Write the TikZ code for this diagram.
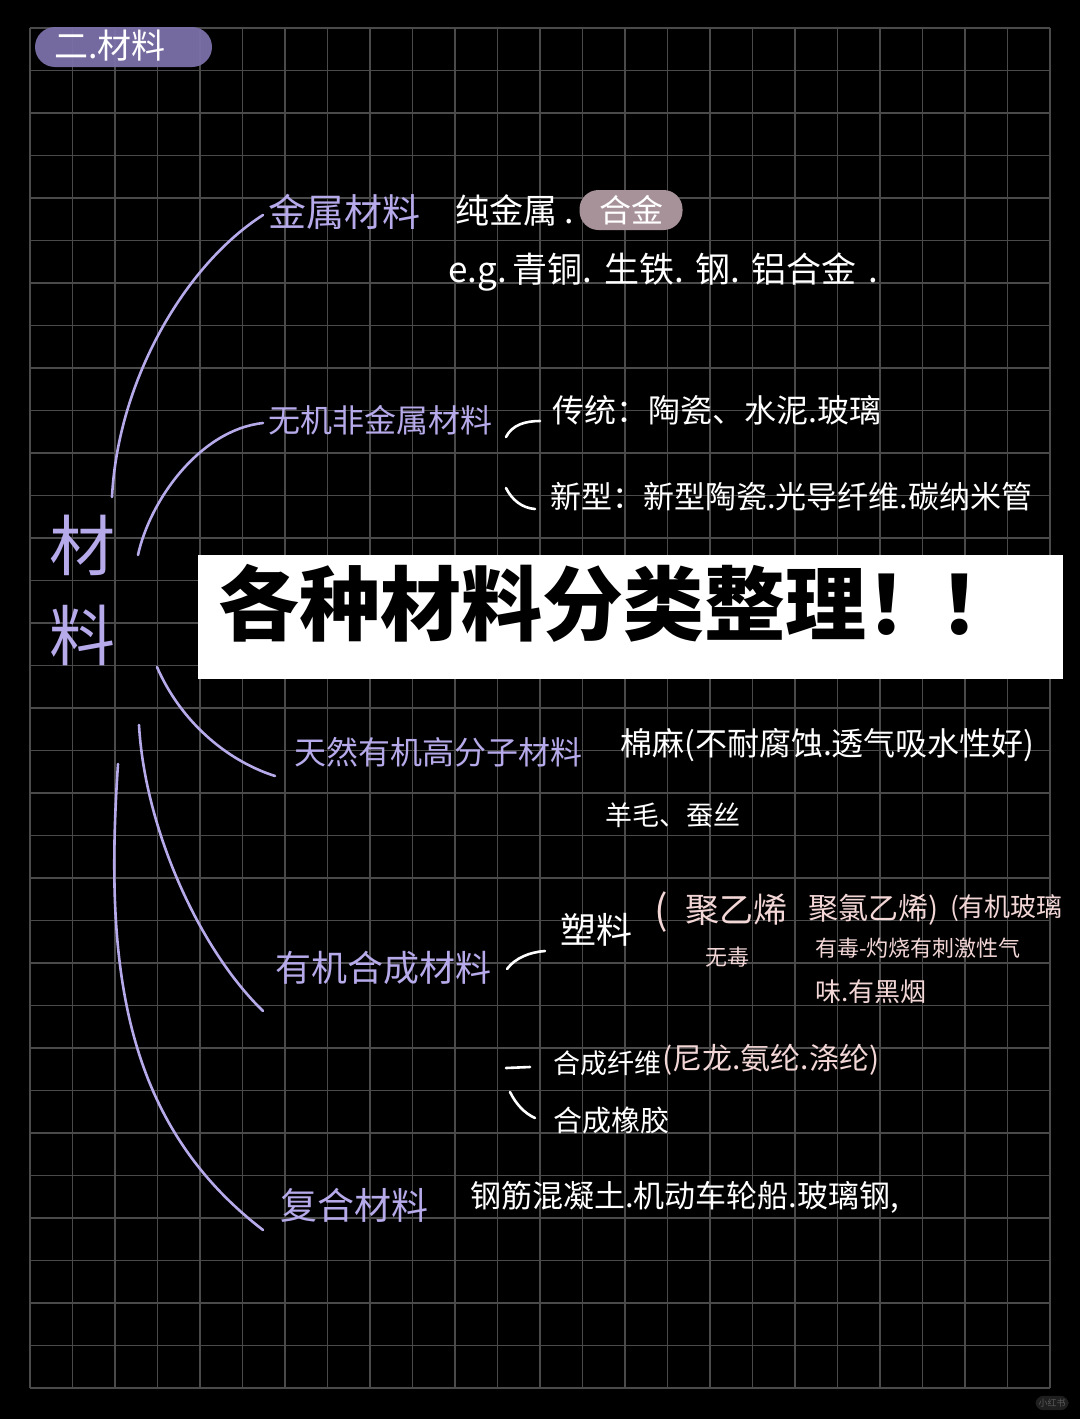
\documentclass[tikz,border=0pt]{standalone}
\usepackage{fontspec}
\newfontfamily\cjk{Noto Sans CJK SC}
\definecolor{lav}{HTML}{B7AAEA}
\definecolor{gridc}{HTML}{4A4A4A}
\definecolor{pinkt}{HTML}{F3D6D6}
\definecolor{pillp}{HTML}{7C70A8}
\definecolor{pillm}{HTML}{A8929A}
\begin{document}
\begin{tikzpicture}[x=1pt,y=-1pt,
  every node/.style={inner sep=2pt, anchor=west},
  fs/.style={font=\cjk\fontsize{#1}{#1}\selectfont},
  cat/.style={text=lav},
  wt/.style={text=white},
  pk/.style={text=pinkt},
  branch/.style={draw=lav, line width=2.6pt, line cap=round},
  stroke/.style={draw=white, line width=2.6pt, line cap=round}]
\fill[black] (0,0) rectangle (1080,1419);
\useasboundingbox (0,0) rectangle (1080,1419);
% grid
\foreach \i in {0,...,24} \draw[gridc, line width=1.3pt] ({30+42.5*\i},28) -- ({30+42.5*\i},1388);
\foreach \j in {0,...,32} \draw[gridc, line width=1.3pt] (30,{28+42.5*\j}) -- (1050,{28+42.5*\j});
% title pill
\fill[pillp, fill opacity=0.95, rounded corners=20pt] (35,27) rectangle (212,67);
\node[wt, fs=34] (title) at (52,46) {二.材料};
% root
\node[cat, anchor=center, align=center, font=\cjk\fontsize{66}{90}\selectfont] (root) at (82,590) {材\\料};
% categories
\node[cat, fs=38] (k1) at (266,212) {金属材料};
\node[cat, fs=32] (k2) at (266,420) {无机非金属材料};
\node[cat, fs=32] (k3) at (292,752) {天然有机高分子材料};
\node[cat, fs=36] (k4) at (273,968) {有机合成材料};
\node[cat, fs=37] (k5) at (278,1205) {复合材料};
% branch curves
\coordinate (s1) at (112,497);
\coordinate (s2) at (138,555);
\coordinate (s3) at (157,667);
\coordinate (s4) at (139,725);
\coordinate (s5) at (118,764);
\draw[branch] (s1) .. controls (118,380) and (185,265) .. ([xshift=-3pt,yshift=-3pt]k1.west);
\draw[branch] (s2) .. controls (150,500) and (200,430) .. ([xshift=-3pt,yshift=-3pt]k2.west);
\draw[branch] (s3) .. controls (180,720) and (225,760) .. ([xshift=-17pt,yshift=-24pt]k3.west);
\draw[branch] (s4) .. controls (145,830) and (200,950) .. ([xshift=-10pt,yshift=-43pt]k4.west);
\draw[branch] (s5) .. controls (105,960) and (120,1120) .. ([xshift=-15pt,yshift=-25pt]k5.west);
% metals
\node[wt, fs=34] (pure) at (453,210) {纯金属 .};
\node[fill=pillm, rounded corners=19pt, minimum width=103pt, minimum height=40pt, inner sep=0pt, anchor=center, wt, fs=32] (alloy) at (631,210) {合金};
\node[wt, fs=35] (eg) at (446,272) {e.g.\,青铜.\,\,生铁.\,\,钢.\,\,铝合金\,\,.};
% inorganic
\draw[stroke] (506,437) .. controls (512,425) and (525,421) .. (540,421);
\draw[stroke] (506,488) .. controls (512,500) and (522,508) .. (535,509);
\node[wt, fs=32] (trad) at (550,410) {传统：陶瓷、水泥.玻璃};
\node[wt, fs=31] (newt) at (548,497) {新型：新型陶瓷.光导纤维.碳纳米管};
% banner
\node[fill=white, minimum width=865pt, minimum height=124pt, inner sep=0pt, anchor=north west] (banner) at (198,555) {};
\node[text=black, font=\cjk\bfseries\fontsize{81}{81}\selectfont, inner sep=0pt] (headline) at (218,603) {各种材料分类整理！\hspace{-8pt}！};
% natural polymers
\node[wt, fs=32] (cotton) at (618,745) {棉麻(不耐腐蚀.透气吸水性好)};
\node[wt, fs=27] (wool) at (603,815) {羊毛、蚕丝};
% synthetic
\draw[stroke] (507,969) .. controls (515,958) and (530,952) .. (545,951);
\node[wt, fs=36] (plastic) at (558,930) {塑料};
\node[pk, fs=40] (paren) at (652,912) {(};
\node[pk, fs=34] (pe) at (683,910) {聚乙烯};
\node[pk, fs=22] (nontox) at (703,957) {无毒};
\node[pk, fs=30] (pvc) at (806,910) {聚氯乙烯)};
\node[pk, fs=26] (pmma) at (948,908) {(有机玻璃};
\node[pk, fs=22] (tox) at (813,948) {有毒-灼烧有刺激性气};
\node[pk, fs=26] (smoke) at (813,992) {味.有黑烟};
\draw[stroke] (506,1068) -- (530,1067);
\draw[stroke] (510,1092) .. controls (516,1104) and (524,1113) .. (535,1118);
\node[wt, fs=27] (fiber) at (551,1063) {合成纤维};
\node[pk, fs=30] (fibers) at (660,1060) {(尼龙.氨纶.涤纶)};
\node[wt, fs=29] (rubber) at (551,1120) {合成橡胶};
% composites
\node[wt, fs=31] (comp) at (468,1197) {钢筋混凝土.机动车轮船.玻璃钢,};
% watermark
\node[fill=black!88!white, rounded corners=8pt, inner sep=3pt, text=black!65!white, fs=9, anchor=center] (wm) at (1052,1403) {小红书};
\end{tikzpicture}
\end{document}
